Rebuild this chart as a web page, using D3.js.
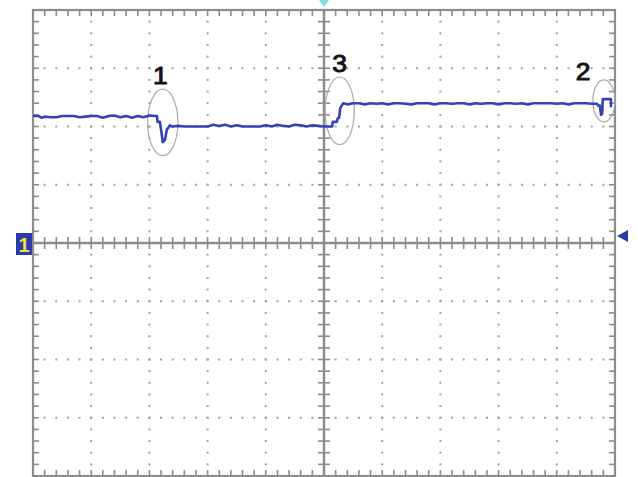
<!DOCTYPE html>
<html><head><meta charset="utf-8">
<script src="https://cdn.jsdelivr.net/npm/d3@7/dist/d3.min.js"></script>
<style>html,body{margin:0;padding:0;background:#fff;}svg{display:block;}</style>
</head><body>
<svg id="c" width="638" height="477"></svg>
<script>
// time in divisions (-5..5), voltage in divisions (-4..4)
const traceT = [-5.0,-4.9,-4.85,-4.8,-4.7,-4.6,-4.5,-4.4,-4.3,-4.2,-4.1,-4.0,-3.9,-3.8,-3.7,-3.6,-3.5,-3.4,-3.3,-3.2,-3.1,-3.0,-2.9,-2.87,
  -2.86,-2.82,-2.80,-2.77,-2.73,-2.70,-2.68,-2.65,-2.61,-2.5,-2.4,-2.3,-2.2,-2.1,-2.0,-1.9,-1.8,-1.7,-1.6,-1.5,-1.4,-1.3,-1.2,-1.1,-1.0,-0.9,-0.8,-0.7,-0.6,-0.5,-0.4,-0.3,-0.2,-0.1,0.0,0.1,0.14,
  0.15,0.22,0.24,0.26,0.28,0.30,0.33,0.4,0.5,0.6,0.7,0.8,0.9,1.0,1.1,1.2,1.3,1.4,1.5,1.6,1.7,1.8,1.9,2.0,2.1,2.2,2.3,2.4,2.5,2.6,2.7,2.8,2.9,3.0,3.1,3.2,3.3,3.4,3.5,3.6,3.7,3.8,3.9,4.0,4.1,4.2,4.3,4.4,4.5,4.6,4.69,
  4.71,4.74,4.76,4.78,4.79,4.93,4.93];
const traceV = [2.18,2.18,2.15,2.17,2.16,2.16,2.18,2.18,2.18,2.16,2.17,2.18,2.18,2.15,2.18,2.19,2.16,2.18,2.15,2.18,2.16,2.19,2.18,2.18,
  2.08,2.08,1.95,1.73,1.78,1.95,1.97,2.02,2.0,2.01,2.0,2.0,2.0,2.0,2.0,2.03,2.01,2.03,2.0,2.02,2.0,2.0,2.0,2.0,2.02,2.0,2.03,2.01,2.0,2.03,2.02,2.0,2.02,2.01,2.0,2.0,2.0,
  2.08,2.08,2.15,2.15,2.32,2.35,2.40,2.38,2.40,2.40,2.38,2.40,2.39,2.40,2.38,2.40,2.40,2.39,2.38,2.40,2.40,2.40,2.38,2.40,2.40,2.39,2.40,2.40,2.38,2.40,2.39,2.40,2.40,2.38,2.40,2.40,2.39,2.40,2.38,2.40,2.40,2.40,2.40,2.39,2.40,2.38,2.40,2.40,2.40,2.39,2.39,
  2.36,2.36,2.20,2.22,2.47,2.47,2.33];
const markLabels = ["1","3","2"];
const markT = [-2.77, 0.27, 4.81];   // ellipse centres (time)
const markV = [2.07, 2.27, 2.44];    // ellipse centres (volts)
const markRT = [0.26, 0.25, 0.19];   // ellipse half-widths (div)
const markRV = [0.57, 0.58, 0.36];   // ellipse half-heights (div)
const labelT = [-2.81, 0.27, 4.45];
const labelV = [2.73, 2.93, 2.79];

const svg = d3.select("#c");
const x = d3.scaleLinear().domain([-5,5]).range([33,615]);
const y = d3.scaleLinear().domain([-4,4]).range([476,10]);
const gridCol = "#8c8c8c", dotCol = "#a0a0a0";

const minorX = d3.range(-5, 5.001, 0.2).map(v => +v.toFixed(2));
const minorY = d3.range(-4, 4.001, 0.2).map(v => +v.toFixed(2));
const majorX = d3.range(-4, 5, 1), majorY = d3.range(-3, 4, 1);

// dotted graticule
const g = svg.append("g");
majorX.filter(d => d !== 0).forEach(mx => {
  minorY.forEach(my => g.append("rect").attr("x", x(mx)-1).attr("y", y(my)-1).attr("width",2).attr("height",2).attr("fill",dotCol));
});
majorY.filter(d => d !== 0).forEach(my => {
  minorX.forEach(mx => g.append("rect").attr("x", x(mx)-1).attr("y", y(my)-1).attr("width",2).attr("height",2).attr("fill",dotCol));
});

// frame
g.append("rect").attr("x", x(-5)).attr("y", y(4)).attr("width", x(5)-x(-5)).attr("height", y(-4)-y(4))
  .attr("fill","none").attr("stroke",gridCol).attr("stroke-width",2.2);
// frame ticks
minorX.forEach(t => {
  g.append("line").attr("x1",x(t)).attr("x2",x(t)).attr("y1",y(4)).attr("y2",y(4)+6).attr("stroke",gridCol).attr("stroke-width",1.6);
  g.append("line").attr("x1",x(t)).attr("x2",x(t)).attr("y1",y(-4)).attr("y2",y(-4)-6).attr("stroke",gridCol).attr("stroke-width",1.6);
  g.append("line").attr("x1",x(t)).attr("x2",x(t)).attr("y1",y(0)-6).attr("y2",y(0)+6).attr("stroke",gridCol).attr("stroke-width",1.6);
});
minorY.forEach(v => {
  g.append("line").attr("y1",y(v)).attr("y2",y(v)).attr("x1",x(-5)).attr("x2",x(-5)+6).attr("stroke",gridCol).attr("stroke-width",1.6);
  g.append("line").attr("y1",y(v)).attr("y2",y(v)).attr("x1",x(5)).attr("x2",x(5)-6).attr("stroke",gridCol).attr("stroke-width",1.6);
  g.append("line").attr("y1",y(v)).attr("y2",y(v)).attr("x1",x(0)-6).attr("x2",x(0)+6).attr("stroke",gridCol).attr("stroke-width",1.6);
});
// centre axes
g.append("line").attr("x1",x(-5)).attr("x2",x(5)).attr("y1",y(0)).attr("y2",y(0)).attr("stroke",gridCol).attr("stroke-width",2.5);
g.append("line").attr("x1",x(0)).attr("x2",x(0)).attr("y1",y(4)).attr("y2",y(-4)).attr("stroke",gridCol).attr("stroke-width",2.5);

// ellipses
markT.forEach((t,i) => {
  svg.append("ellipse").attr("cx",x(t)).attr("cy",y(markV[i]))
    .attr("rx", x(markRT[i]) - x(0)).attr("ry", y(0) - y(markRV[i]))
    .attr("fill","none").attr("stroke","#a8a8a8").attr("stroke-width",1.2);
});

// trace
const pts = traceT.map((t,i) => [t, traceV[i]]);
svg.append("path").datum(pts)
  .attr("d", d3.line().x(d => x(d[0])).y(d => y(d[1])))
  .attr("fill","none").attr("stroke","#3242b8").attr("stroke-width",2.6).attr("stroke-linejoin","round");

// labels
markLabels.forEach((s,i) => {
  svg.append("text").attr("x", x(labelT[i])).attr("y", y(labelV[i]))
    .attr("text-anchor","middle").attr("font-family","Liberation Sans, Arial, sans-serif")
    .attr("font-size",23).attr("fill","#111").attr("stroke","#111").attr("stroke-width",0.9)
    .attr("transform-origin", `${x(labelT[i])} ${y(labelV[i])}`)
    .attr("transform","scale(1.15,1)").text(s);
});

// trigger marker (top)
svg.append("path").attr("d", `M${x(0)-5},0 L${x(0)+5},0 L${x(0)},7 Z`).attr("fill","#80dede");
// trigger level marker (right)
const tl = 0.12;
svg.append("path").attr("d", `M${x(5)+2},${y(tl)} L${x(5)+13},${y(tl)-6} L${x(5)+13},${y(tl)+6} Z`).attr("fill","#2a3aa8");
// channel marker (left)
svg.append("rect").attr("x",16).attr("y",y(0)-10).attr("width",16).attr("height",22).attr("fill","#2a3aa8");
svg.append("text").attr("x",24).attr("y",y(0)+9).attr("text-anchor","middle").attr("font-family","Liberation Sans, Arial, sans-serif")
  .attr("font-weight","bold").attr("font-size",20).attr("fill","#f0e040").text("1");
</script>
</body></html>
